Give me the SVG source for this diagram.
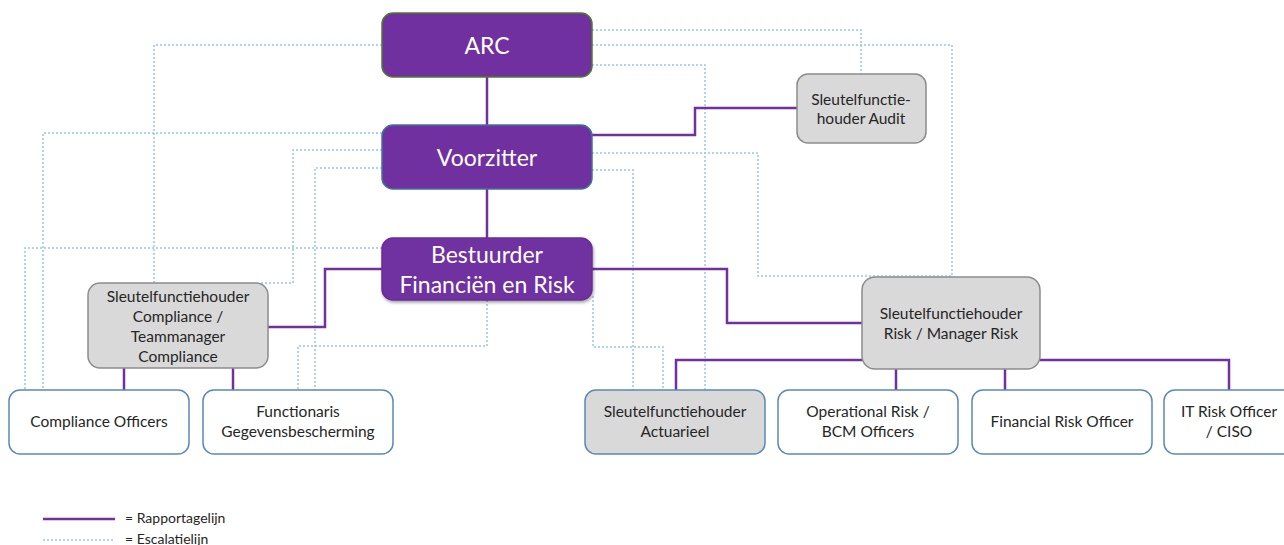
<svg xmlns="http://www.w3.org/2000/svg" width="1284" height="545" viewBox="0 0 1284 545">
<style>
.bg{fill:#ffffff}
.esc{fill:none;stroke:#9DC3E6;stroke-width:1.5;stroke-dasharray:2,2}
.rep{fill:none;stroke:#7030A0;stroke-width:2.5}
.top{fill:#7030A0;stroke-width:1.5}
.grey{fill:#D9D9D9;stroke:#8C8C8C;stroke-width:1.5}
.greyb{fill:#D9D9D9;stroke:#5B89B7;stroke-width:1.5}
.white{fill:#ffffff;stroke:#5B89B7;stroke-width:1.5}
.tb{font-family:Lato,"Open Sans",sans-serif;font-size:23px;fill:#ffffff;text-anchor:middle}
.ts{font-family:Lato,"Open Sans",sans-serif;font-size:15.5px;fill:#262626;text-anchor:middle}
.tl{font-family:Lato,"Open Sans",sans-serif;font-size:14px;fill:#262626}
</style>
<defs>
<filter id="sh" x="-10%" y="-10%" width="130%" height="140%">
<feDropShadow dx="1" dy="2" stdDeviation="1.5" flood-color="#000" flood-opacity="0.35"/>
</filter>
</defs>
<rect class="bg" width="1284" height="545"/>
<g id="connectors">
<polyline class="esc" points="382,45 154,45 154,283"/>
<polyline class="esc" points="382,133 43,133 43,390"/>
<polyline class="esc" points="382,150 293,150 293,283 260,283"/>
<polyline class="esc" points="382,168 315,168 315,390"/>
<polyline class="esc" points="382,248 25,248 25,390"/>
<polyline class="esc" points="487,300 487,346 298,346 298,390"/>
<polyline class="esc" points="593,296 593,347 663,347 663,390"/>
<polyline class="esc" points="592,30 861,30 861,74"/>
<polyline class="esc" points="592,45 952,45 952,277"/>
<polyline class="esc" points="592,65 705,65 705,390"/>
<polyline class="esc" points="592,153 758,153 758,276 952,276"/>
<polyline class="esc" points="592,170 633,170 633,390"/>
<polyline class="rep" points="487,77 487,125"/>
<polyline class="rep" points="487,189 487,238"/>
<polyline class="rep" points="592,135 695,135 695,108 797,108"/>
<polyline class="rep" points="382,269 325,269 325,327 268,327"/>
<polyline class="rep" points="592,269 727,269 727,323 862,323"/>
<polyline class="rep" points="676,390 676,360 1229,360 1229,390"/>
<polyline class="rep" points="896,360 896,390"/>
<polyline class="rep" points="1005,360 1005,390"/>
<polyline class="rep" points="124,368 124,390"/>
<polyline class="rep" points="233,368 233,390"/>
</g>
<g id="arc">
<rect class="top" x="382" y="13" width="210" height="64" rx="11" stroke="#4E7A2E"/>
<text class="tb" x="487" y="54">ARC</text>
</g>
<g id="voorzitter">
<rect class="top" x="382" y="125" width="210" height="64" rx="11" stroke="#41719C"/>
<text class="tb" x="487" y="166">Voorzitter</text>
</g>
<g id="bestuurder">
<rect class="top" x="382" y="238" width="210" height="62" rx="11" stroke="#6A2C98" filter="url(#sh)"/>
<text class="tb" x="487" y="263">Bestuurder</text>
<text class="tb" x="487" y="293">Financiën en Risk</text>
</g>
<g id="audit">
<rect class="grey" x="797" y="74" width="129" height="69" rx="11"/>
<text class="ts" x="861" y="105">Sleutelfunctie-</text>
<text class="ts" x="861" y="124">houder Audit</text>
</g>
<g id="compliance">
<rect class="grey" x="88" y="283" width="180" height="85" rx="12"/>
<text class="ts" x="178" y="302">Sleutelfunctiehouder</text>
<text class="ts" x="178" y="322">Compliance /</text>
<text class="ts" x="178" y="342">Teammanager</text>
<text class="ts" x="178" y="362">Compliance</text>
</g>
<g id="risk">
<rect class="grey" x="862" y="277" width="178" height="92" rx="13"/>
<text class="ts" x="951" y="319">Sleutelfunctiehouder</text>
<text class="ts" x="951" y="339">Risk / Manager Risk</text>
</g>
<g id="compliance-officers">
<rect class="white" x="9" y="390" width="180" height="64" rx="11"/>
<text class="ts" x="99" y="427">Compliance Officers</text>
</g>
<g id="functionaris">
<rect class="white" x="203" y="390" width="190" height="64" rx="11"/>
<text class="ts" x="298" y="417">Functionaris</text>
<text class="ts" x="298" y="437">Gegevensbescherming</text>
</g>
<g id="actuarieel">
<rect class="greyb" x="585" y="390" width="180" height="64" rx="11"/>
<text class="ts" x="675" y="417">Sleutelfunctiehouder</text>
<text class="ts" x="675" y="437">Actuarieel</text>
</g>
<g id="operational">
<rect class="white" x="778" y="390" width="180" height="64" rx="11"/>
<text class="ts" x="868" y="417">Operational Risk /</text>
<text class="ts" x="868" y="437">BCM Officers</text>
</g>
<g id="financial">
<rect class="white" x="972" y="390" width="180" height="64" rx="11"/>
<text class="ts" x="1062" y="427">Financial Risk Officer</text>
</g>
<g id="itrisk">
<rect class="white" x="1164" y="390" width="140" height="64" rx="11"/>
<text class="ts" x="1229" y="417">IT Risk Officer</text>
<text class="ts" x="1229" y="437">/ CISO</text>
</g>
<g id="legend">
<line class="rep" x1="43" y1="519" x2="115" y2="519" stroke="#8E44BE"/>
<text class="tl" x="125" y="523">= Rapportagelijn</text>
<line class="esc" x1="43" y1="540" x2="115" y2="540"/>
<text class="tl" x="125" y="544">= Escalatielijn</text>
</g>
</svg>
